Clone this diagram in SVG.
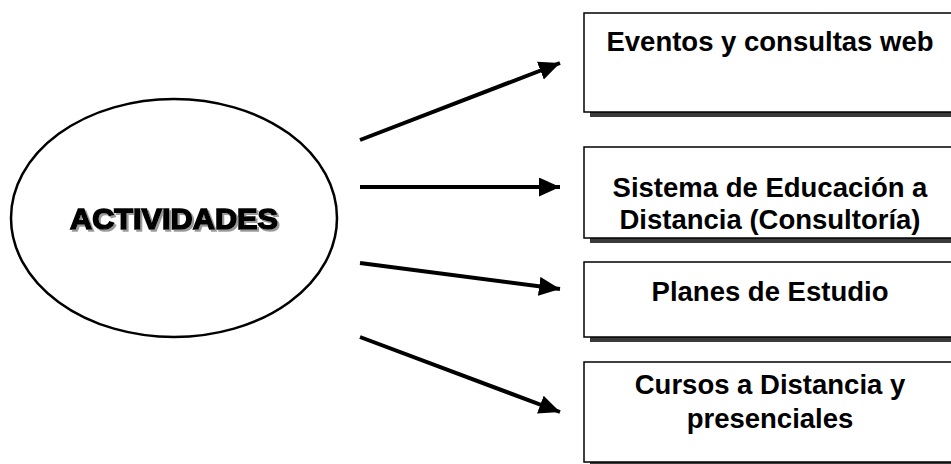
<svg xmlns="http://www.w3.org/2000/svg" width="951" height="464" viewBox="0 0 951 464">
<style>
.box{fill:#fff;stroke:#000;stroke-width:1.5}
.shadow{fill:#3a3a3a}
.lbl{font-family:"Liberation Sans",Arial,sans-serif;font-weight:bold;font-size:27.5px;fill:#000;text-anchor:middle}
.conn{stroke:#000;stroke-width:4;fill:none;marker-end:url(#ah)}
.big{font-family:"Liberation Sans",Arial,sans-serif;font-weight:bold;font-size:30px;text-anchor:middle;fill:#000;stroke:#000;stroke-width:1.6}
</style>
<defs>
<marker id="ah" markerUnits="userSpaceOnUse" markerWidth="24" markerHeight="20" refX="21" refY="9.5" orient="auto">
<path d="M0,0 L21,9.5 L0,19 Z" fill="#000"/>
</marker>
<filter id="ds" x="-10%" y="-30%" width="120%" height="160%">
<feOffset in="SourceAlpha" dx="2" dy="2" result="o"/>
<feFlood flood-color="#9a9a9a"/>
<feComposite in2="o" operator="in" result="s"/>
<feMerge><feMergeNode in="s"/><feMergeNode in="SourceGraphic"/></feMerge>
</filter>
</defs>
<rect width="951" height="464" fill="#fff"/>
<g id="actividades">
<ellipse cx="174" cy="218" rx="163" ry="119" fill="#fff" stroke="#000" stroke-width="2.5"/>
<text class="big" x="174" y="229" textLength="208" lengthAdjust="spacingAndGlyphs" filter="url(#ds)">ACTIVIDADES</text>
</g>
<g id="connectors">
<line class="conn" x1="360" y1="140" x2="560" y2="63"/>
<line class="conn" x1="360" y1="187" x2="560" y2="187"/>
<line class="conn" x1="360" y1="263" x2="560" y2="289"/>
<line class="conn" x1="360" y1="337" x2="560" y2="412"/>
</g>
<g id="box1">
<rect class="shadow" x="590" y="18" width="372" height="99"/>
<rect class="box" x="584" y="13" width="372" height="99"/>
<text class="lbl" x="770" y="51">Eventos y consultas web</text>
</g>
<g id="box2">
<rect class="shadow" x="590" y="152" width="372" height="91"/>
<rect class="box" x="584" y="147" width="372" height="91"/>
<text class="lbl" x="770" y="197">Sistema de Educación a</text>
<text class="lbl" x="770" y="229">Distancia (Consultoría)</text>
</g>
<g id="box3">
<rect class="shadow" x="590" y="267" width="372" height="75"/>
<rect class="box" x="584" y="262" width="372" height="75"/>
<text class="lbl" x="770" y="301">Planes de Estudio</text>
</g>
<g id="box4">
<rect class="shadow" x="590" y="367" width="372" height="100"/>
<rect class="box" x="584" y="362" width="372" height="100"/>
<text class="lbl" x="770" y="394">Cursos a Distancia y</text>
<text class="lbl" x="770" y="428">presenciales</text>
</g>
</svg>
